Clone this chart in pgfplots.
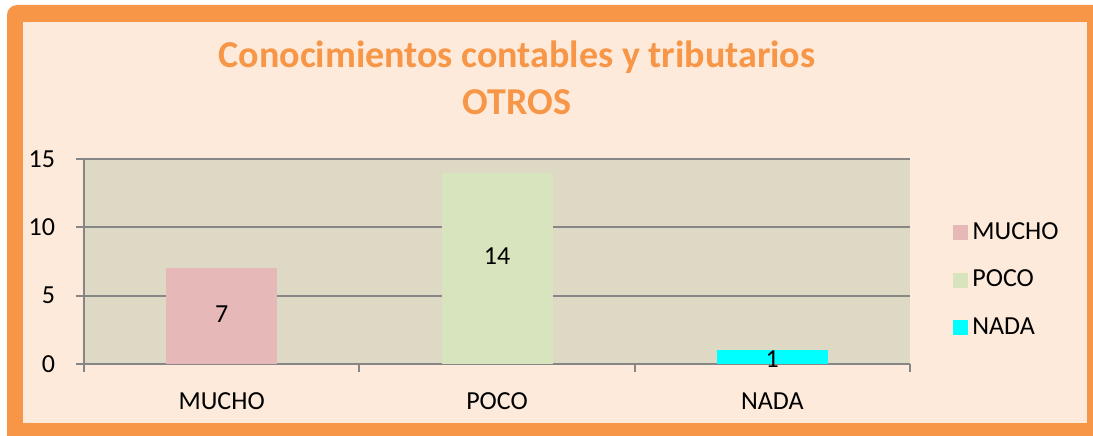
\documentclass[border=0pt]{standalone}
\usepackage{fontspec}
\setmainfont{Carlito}
\usepackage{pgfplots}
\pgfplotsset{compat=1.18}
\definecolor{frameor}{HTML}{F79646}
\definecolor{peach}{HTML}{FDEADA}
\definecolor{plotbg}{HTML}{DED9C4}
\definecolor{gridc}{HTML}{868686}
\definecolor{cm}{HTML}{E6B9B8}
\definecolor{cp}{HTML}{D7E4BD}
\definecolor{cn}{HTML}{00FFFF}
\begin{document}
\begin{tikzpicture}
\useasboundingbox (0pt,0pt) rectangle (546.5pt,217.5pt);
\clip (0pt,0pt) rectangle (546.5pt,217.5pt);
\fill[white] (0pt,0pt) rectangle (546.5pt,217.5pt);
\fill[frameor, rounded corners=5pt] (3.5pt,-5pt) rectangle (555pt,215pt);
\fill[peach] (11.5pt,6pt) rectangle (543.5pt,206.5pt);
\node[font=\fontsize{19}{22}\selectfont\bfseries, text=frameor] at (258.5pt,189pt) {Conocimientos contables y tributarios};
\node[font=\fontsize{19}{22}\selectfont\bfseries, text=frameor] at (258.5pt,166.5pt) {OTROS};
\begin{axis}[
  at={(42pt,35.5pt)}, anchor=south west, scale only axis,
  width=413pt, height=102.5pt,
  xmin=-0.5, xmax=2.5, ymin=0, ymax=15,
  axis background/.style={fill=plotbg},
  axis x line*=bottom, axis y line*=left,
  axis line style={gridc, line width=1pt, -},
  ytick={0,5,10,15}, ymajorgrids, grid style={gridc, line width=1pt},
  xtick={-0.5,0.5,1.5,2.5}, x tick label as interval,
  xticklabels={MUCHO,POCO,NADA},
  tick align=outside, major tick length=4pt,
  tick style={gridc, line width=1pt},
  /pgf/number format/assume math mode=true,
  ticklabel style={font=\fontsize{13}{15}\selectfont},
  yticklabel style={xshift=-7pt},
  xticklabel style={yshift=-7pt},
  ybar, bar width=55.5pt,
  legend style={at={(axis description cs:1.052,0.41)}, anchor=west, draw=none, fill=none,
    font=\fontsize{13}{15}\selectfont, row sep=10pt, inner xsep=0pt, inner ysep=0pt},
  legend cell align=left,
  legsq/.style={legend image code/.code={\fill[##1] (0pt,-3.75pt) rectangle (7.5pt,3.75pt);}},
]
\addplot[fill=cm, draw=none, bar shift=0pt, legsq, nodes near coords,
  every node near coord/.append style={anchor=center, yshift=-23pt, font=\fontsize{13}{15}\selectfont, text=black}]
  coordinates {(0,7)};
\addplot[fill=cp, draw=none, bar shift=0pt, legsq, nodes near coords,
  every node near coord/.append style={anchor=center, yshift=-41.5pt, font=\fontsize{13}{15}\selectfont, text=black}]
  coordinates {(1,14)};
\addplot[fill=cn, draw=none, bar shift=0pt, legsq, nodes near coords,
  every node near coord/.append style={anchor=center, yshift=-4.5pt, font=\fontsize{13}{15}\selectfont, text=black}]
  coordinates {(2,1)};
\legend{MUCHO,POCO,NADA}
\end{axis}
\end{tikzpicture}
\end{document}
